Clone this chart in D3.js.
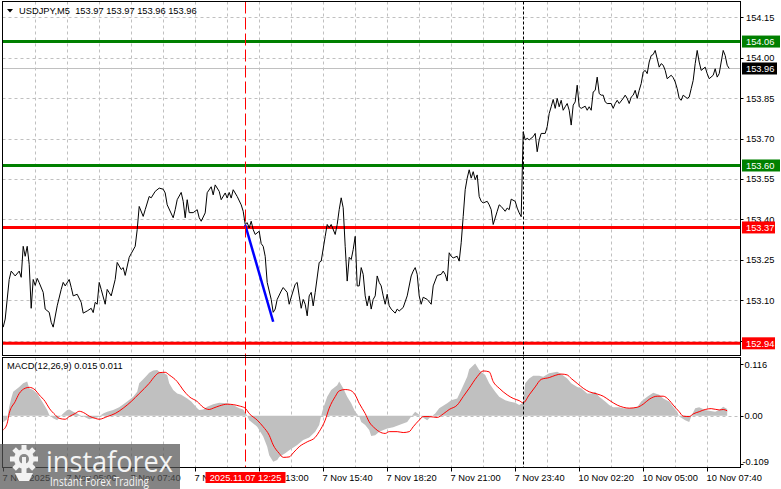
<!DOCTYPE html>
<html><head><meta charset="utf-8">
<script src="https://cdn.jsdelivr.net/npm/d3@7"></script>
<style>
html,body{margin:0;padding:0;background:#fff;}
svg{display:block;}
text{font-family:"Liberation Sans",Arial,sans-serif;}
</style>
</head><body>
<svg id="c" width="781" height="489"></svg>
<script>
// ---------------- DATA ----------------
const headerText = "USDJPY,M5  153.97 153.97 153.96 153.96";
const macdTitle = "MACD(12,26,9) 0.015 0.011";

// bar index (5-minute bars, bar 0 = 7 Nov 02:20) and close price
const priceBars = [0,1,3,4,6,8,9,10,11,12,13,14,15,16,17,18,20,21,23,24,25,27,29,30,31,33,34,35,37,39,40,42,44,45,46,47,48,49,51,52,53,54,56,57,59,60,61,63,64,66,67,68,70,71,73,74,76,78,80,81,82,85,86,87,89,90,91,92,93,95,97,98,99,101,102,104,105,106,108,109,111,112,113,114,115,117,119,120,121,122,123,124,125,126,128,129,130,131,132,134,135,136,137,139,140,142,143,144,146,147,148,149,150,151,152,153,154,155,156,158,159,161,162,163,164,166,167,168,169,170,171,172,173,174,175,176,177,178,179,180,181,182,183,184,185,186,187,188,189,190,191,192,193,194,196,197,198,200,202,204,205,206,207,208,209,210,212,214,215,217,219,220,221,222,223,224,225,227,228,229,230,231,232,233,234,235,236,237,238,239,240,242,243,244,245,247,248,249,251,252,253,254,256,257,258,259,260,261,262,263,265,266,267,268,269,271,272,273,274,275,276,277,278,279,280,281,282,283,284,285,286,287,288,289,291,292,293,294,295,296,297,298,299,300,301,302,304,305,306,307,308,310,311,312,313,314,315,316,317,318,319,320,321,322,323,324,325,326,328,329,330,331,332,334,335,336,337,338,339,340,342,343,344,345,346,347,348,349,351,352,353,355,356,357,358,359,360,361,362,363];
const priceClose = [153.000,153.030,153.177,153.208,153.190,153.208,153.185,153.300,153.263,153.300,153.233,153.070,153.177,153.155,153.181,153.165,153.129,153.067,153.055,153.018,153.000,153.079,153.140,153.166,153.153,153.177,153.148,153.116,153.122,153.092,153.052,153.060,153.070,153.054,153.092,153.085,153.166,153.140,153.085,153.140,153.128,153.116,153.177,153.240,153.214,153.221,153.192,153.259,153.273,153.300,153.362,153.448,153.411,153.436,153.485,153.480,153.504,153.516,153.512,153.498,153.454,153.406,153.436,153.473,153.500,153.467,153.406,153.473,153.425,153.425,153.436,153.406,153.393,153.424,153.499,153.521,153.491,153.528,153.504,153.473,153.498,153.479,153.500,153.479,153.510,153.485,153.454,153.430,153.381,153.388,153.368,153.393,153.362,153.344,153.356,153.310,153.300,153.263,153.166,153.103,153.055,153.067,153.103,153.134,153.147,153.129,153.085,153.111,153.159,153.166,153.116,153.070,153.103,153.085,153.042,153.116,153.129,153.079,153.129,153.240,153.245,153.337,153.381,153.369,153.381,153.344,153.381,153.436,153.480,153.443,153.300,153.171,153.259,153.251,153.288,153.337,153.153,153.153,153.221,153.196,153.116,153.079,153.116,153.067,153.103,153.116,153.190,153.166,153.153,153.116,153.085,153.122,153.079,153.067,153.052,153.067,153.060,153.073,153.116,153.190,153.208,153.221,153.196,153.116,153.085,153.111,153.103,153.085,153.153,153.192,153.196,153.208,153.196,153.171,153.276,153.263,153.257,153.263,153.245,153.313,153.411,153.510,153.553,153.584,153.553,153.577,153.547,153.565,153.485,153.467,153.461,153.467,153.454,153.436,153.381,153.430,153.454,153.448,153.430,153.442,153.436,153.475,153.467,153.442,153.424,153.410,153.725,153.695,153.701,153.695,153.707,153.719,153.651,153.695,153.719,153.719,153.744,153.793,153.818,153.845,153.812,153.849,153.818,153.842,153.805,153.818,153.830,153.805,153.750,153.824,153.836,153.898,153.818,153.812,153.820,153.805,153.818,153.805,153.873,153.879,153.928,153.867,153.861,153.861,153.836,153.830,153.830,153.812,153.830,153.842,153.830,153.849,153.861,153.849,153.830,153.854,153.861,153.879,153.849,153.879,153.904,153.947,153.953,153.941,153.984,154.008,154.012,154.027,153.965,153.978,153.972,153.953,153.922,153.935,153.926,153.910,153.885,153.849,153.842,153.861,153.849,153.854,153.885,153.916,153.978,154.027,153.984,153.953,153.965,153.941,153.922,153.935,153.959,153.928,153.941,153.984,154.027,154.008,153.972,153.960];

const priceTicks = [154.15,154.00,153.85,153.70,153.55,153.40,153.25,153.10,152.95];
const greenLevels = [154.06, 153.60];
const redLevels = [153.37, 152.94];
const currentPrice = 153.96;

const blueBars = [121, 135];
const bluePrices = [153.38, 153.02];

const timeLabelBars = [0,32,64,96,128,160,192,224,256,288,320,352];
const timeLabels = ["7 Nov 2025","7 Nov 05:00","7 Nov 07:40","7 Nov 10:20","7 Nov 13:00","7 Nov 15:40","7 Nov 18:20","7 Nov 21:00","7 Nov 23:40","10 Nov 02:20","10 Nov 05:00","10 Nov 07:40"];
const markerBar = 121;
const markerLabel = "2025.11.07 12:25";
const sessionBar = 260;

const macdBars = [0,2,3,4,5,8,10,12,13,15,17,18,20,22,23,25,27,28,30,32,33,35,37,38,40,42,43,45,47,48,50,52,55,58,62,65,67,68,70,72,73,75,77,78,80,82,83,85,87,89,92,94,97,98,100,102,105,108,112,115,118,120,122,123,127,130,132,133,135,137,138,141,143,147,150,153,156,158,159,160,162,164,167,168,170,172,174,176,178,179,181,183,184,186,188,192,195,198,202,204,206,208,209,212,213,216,218,222,224,227,229,232,233,236,238,241,243,246,248,251,253,256,258,260,261,263,265,268,270,273,277,279,282,284,287,289,292,294,296,298,301,303,305,308,310,313,317,319,322,325,328,330,333,335,337,338,341,343,344,346,348,351,353,356,358,360,362];
const macdValues = [-0.015,-0.008,0.020,0.039,0.054,0.065,0.073,0.077,0.062,0.058,0.050,0.043,0.028,0.013,0.002,-0.006,-0.010,-0.004,0.005,0.013,0.014,0.009,0.005,0.002,-0.001,-0.006,-0.008,-0.006,-0.004,-0.001,0.005,0.009,0.013,0.019,0.032,0.043,0.054,0.073,0.082,0.092,0.097,0.102,0.103,0.099,0.097,0.092,0.073,0.058,0.050,0.047,0.039,0.032,0.017,0.013,0.014,0.020,0.026,0.029,0.028,0.024,0.017,0.014,0.000,-0.010,-0.025,-0.047,-0.070,-0.089,-0.104,-0.100,-0.093,-0.085,-0.078,-0.066,-0.055,-0.049,-0.036,-0.021,0.000,0.017,0.043,0.058,0.069,0.077,0.062,0.043,0.028,0.009,-0.002,-0.014,-0.021,-0.032,-0.046,-0.044,-0.036,-0.029,-0.026,-0.021,-0.014,-0.002,0.009,0.002,-0.002,-0.010,-0.006,0.005,0.017,0.028,0.035,0.039,0.058,0.088,0.105,0.118,0.103,0.092,0.073,0.054,0.043,0.035,0.032,0.029,0.024,0.029,0.073,0.084,0.090,0.090,0.088,0.096,0.099,0.094,0.084,0.073,0.065,0.062,0.050,0.050,0.054,0.043,0.032,0.024,0.019,0.019,0.017,0.017,0.019,0.032,0.043,0.052,0.047,0.039,0.032,0.020,0.009,-0.002,-0.010,-0.014,-0.002,0.017,0.019,0.013,0.011,0.009,0.013,0.020,0.015];

const signalBars = [0,2,3,6,8,11,13,16,18,21,23,26,28,31,33,36,38,41,43,46,48,52,56,60,64,68,73,76,78,81,83,87,90,93,97,100,103,105,108,112,115,118,121,123,127,130,133,135,138,140,143,145,148,152,156,158,161,163,166,168,171,173,176,178,181,183,186,188,191,193,197,200,203,205,208,210,213,217,220,223,227,230,233,237,240,243,245,248,252,255,258,260,263,266,269,273,276,279,282,284,287,290,293,297,300,303,307,310,313,317,320,323,327,330,333,335,338,340,343,345,348,351,354,358,360,362];
const signalValues = [-0.032,-0.017,0.005,0.032,0.050,0.062,0.064,0.058,0.047,0.032,0.017,0.002,-0.006,-0.008,-0.002,0.005,0.010,0.005,-0.001,-0.006,-0.008,-0.002,0.005,0.017,0.032,0.050,0.073,0.090,0.097,0.098,0.092,0.077,0.058,0.043,0.032,0.019,0.014,0.017,0.022,0.026,0.025,0.022,0.017,0.005,-0.010,-0.025,-0.044,-0.066,-0.085,-0.094,-0.093,-0.084,-0.070,-0.059,-0.049,-0.036,-0.010,0.017,0.043,0.056,0.059,0.058,0.047,0.028,0.005,-0.014,-0.029,-0.036,-0.040,-0.036,-0.036,-0.038,-0.036,-0.025,-0.010,-0.002,-0.002,-0.004,0.004,0.014,0.024,0.043,0.062,0.088,0.101,0.099,0.077,0.062,0.047,0.039,0.034,0.029,0.047,0.065,0.082,0.086,0.091,0.094,0.092,0.084,0.073,0.062,0.054,0.049,0.044,0.035,0.024,0.019,0.017,0.019,0.026,0.037,0.044,0.044,0.035,0.024,0.009,-0.001,-0.002,0.004,0.009,0.014,0.016,0.013,0.014,0.011];

const macdTicks = [0.116, 0, -0.109];
const macdTickLabels = ["0.116", "0.00", "-0.109"];

// ---------------- LAYOUT ----------------
const svg = d3.select("#c");
const L = 2.5, R = 740.5;
const mainTop = 1.5, mainBot = 355.5, macdTop = 357.5, macdBot = 467.5;
const FS = 9.3;

const x = d3.scaleLinear().domain([0, 368]).range([3.2, 3.2 + 2 * 368]);
const yP = d3.scaleLinear().domain([153.10, 154.15]).range([300.2, 17.3]);
const yM = d3.scaleLinear().domain([0, 0.116]).range([415.7, 364.3]);
const px = v => Math.round(v) + 0.5;

const defs = svg.append("defs");
defs.append("clipPath").attr("id", "clipMain").append("rect")
  .attr("x", L).attr("y", mainTop).attr("width", R - L).attr("height", mainBot - mainTop);
defs.append("clipPath").attr("id", "clipMacd").append("rect")
  .attr("x", L).attr("y", macdTop).attr("width", R - L).attr("height", macdBot - macdTop);

// grid
const grid = svg.append("g").attr("stroke", "#c0c0c0").attr("stroke-dasharray", "3,3").attr("stroke-width", 1);
const vGrid = d3.range(16, 368, 16).filter(b => x(b) < R - 2);
vGrid.forEach(b => {
  grid.append("line").attr("x1", px(x(b))).attr("x2", px(x(b))).attr("y1", mainTop).attr("y2", mainBot);
  grid.append("line").attr("x1", px(x(b))).attr("x2", px(x(b))).attr("y1", macdTop).attr("y2", macdBot);
});
priceTicks.forEach(t => {
  grid.append("line").attr("x1", L).attr("x2", R).attr("y1", px(yP(t))).attr("y2", px(yP(t)));
});
grid.append("line").attr("x1", L).attr("x2", R).attr("y1", px(yM(0))).attr("y2", px(yM(0)));

// MACD histogram + signal
const gM = svg.append("g").attr("clip-path", "url(#clipMacd)");
const histData = macdBars.map((b, i) => [b, macdValues[i]]);
gM.append("path").datum(histData)
  .attr("d", d3.area().x(d => x(d[0])).y0(yM(0)).y1(d => yM(d[1])))
  .attr("fill", "#c0c0c0");
const sigData = signalBars.map((b, i) => [b, signalValues[i]]);
gM.append("path").datum(sigData)
  .attr("d", d3.line().x(d => x(d[0])).y(d => yM(d[1])).curve(d3.curveMonotoneX))
  .attr("fill", "none").attr("stroke", "#ff0000").attr("stroke-width", 1);

// main panel
const gP = svg.append("g").attr("clip-path", "url(#clipMain)");
gP.append("line").attr("x1", L).attr("x2", R).attr("y1", px(yP(currentPrice))).attr("y2", px(yP(currentPrice)))
  .attr("stroke", "#c0c0c0").attr("stroke-width", 1);
greenLevels.forEach(v => gP.append("line").attr("x1", L).attr("x2", R).attr("y1", yP(v)).attr("y2", yP(v))
  .attr("stroke", "#008000").attr("stroke-width", 3));
redLevels.forEach(v => gP.append("line").attr("x1", L).attr("x2", R).attr("y1", yP(v)).attr("y2", yP(v))
  .attr("stroke", "#ff0000").attr("stroke-width", 3));

const priceData = priceBars.map((b, i) => [b, priceClose[i]]);
gP.append("path").datum(priceData)
  .attr("d", d3.line().x(d => x(d[0])).y(d => yP(d[1])))
  .attr("fill", "none").attr("stroke", "#000").attr("stroke-width", 1);

const blueData = blueBars.map((b, i) => [b, bluePrices[i]]);
gP.append("path").datum(blueData)
  .attr("d", d3.line().x(d => x(d[0])).y(d => yP(d[1])))
  .attr("fill", "none").attr("stroke", "#0000ff").attr("stroke-width", 2.5);

// vertical markers
svg.append("line").attr("x1", px(x(markerBar))).attr("x2", px(x(markerBar))).attr("y1", mainTop).attr("y2", macdBot)
  .attr("stroke", "#ff0000").attr("stroke-width", 1).attr("stroke-dasharray", "12,4");
svg.append("line").attr("x1", px(x(sessionBar))).attr("x2", px(x(sessionBar))).attr("y1", mainTop).attr("y2", macdBot)
  .attr("stroke", "#000").attr("stroke-width", 1).attr("stroke-dasharray", "3,2");

// panel borders
svg.append("rect").attr("x", L).attr("y", mainTop).attr("width", R - L).attr("height", mainBot - mainTop)
  .attr("fill", "none").attr("stroke", "#000");
svg.append("rect").attr("x", L).attr("y", macdTop).attr("width", R - L).attr("height", macdBot - macdTop)
  .attr("fill", "none").attr("stroke", "#000");

// header
svg.append("path").attr("d", "M7,9 L13,9 L10,12.5 Z").attr("fill", "#000");
svg.append("text").attr("x", 19).attr("y", 14).attr("font-size", FS).attr("fill", "#000")
  .attr("xml:space", "preserve").style("white-space", "pre").text(headerText);
svg.append("text").attr("x", 7).attr("y", 369).attr("font-size", FS).attr("fill", "#000")
  .text(macdTitle);

// right price axis
const ax = svg.append("g");
priceTicks.forEach(t => {
  const yy = yP(t);
  ax.append("line").attr("x1", R).attr("x2", R + 3).attr("y1", px(yy)).attr("y2", px(yy)).attr("stroke", "#000");
  ax.append("text").attr("x", 746).attr("y", yy + 3.5).attr("font-size", FS).attr("fill", "#000").text(t.toFixed(2));
});
function levelBox(v, fill, w) {
  const yy = yP(v);
  ax.append("rect").attr("x", 742).attr("y", yy - 6).attr("width", w).attr("height", 12).attr("fill", fill);
  ax.append("text").attr("x", 746).attr("y", yy + 3.5).attr("font-size", FS).attr("fill", "#fff").text(v.toFixed(2));
}
greenLevels.forEach(v => levelBox(v, "#008000", 38));
levelBox(currentPrice, "#000", 35);
redLevels.forEach(v => levelBox(v, "#ff0000", 33));

// MACD axis
macdTicks.forEach((t, i) => {
  const yy = Math.min(yM(t), 461.7);
  ax.append("line").attr("x1", R).attr("x2", R + 3).attr("y1", px(yM(t) > 466 ? 466 : yM(t))).attr("y2", px(yM(t) > 466 ? 466 : yM(t))).attr("stroke", "#000");
  ax.append("text").attr("x", t < 0 ? 742.5 : 744.5).attr("y", yy + 3.5).attr("font-size", FS).attr("fill", "#000").text(macdTickLabels[i]);
});

// time axis
timeLabelBars.forEach((b, i) => {
  const xx = px(x(b));
  ax.append("line").attr("x1", xx).attr("x2", xx).attr("y1", macdBot).attr("y2", macdBot + 4).attr("stroke", "#000");
  ax.append("text").attr("x", xx - 1).attr("y", 481).attr("font-size", FS).attr("fill", "#000").text(timeLabels[i]);
});
const mx = px(x(markerBar));
ax.append("rect").attr("x", mx - 40).attr("y", 472).attr("width", 80).attr("height", 11).attr("fill", "#ff0000");
ax.append("text").attr("x", mx).attr("y", 481).attr("text-anchor", "middle").attr("font-size", FS).attr("fill", "#fff").text(markerLabel);

// watermark logo
const lg = svg.append("g");
lg.append("rect").attr("x", 0).attr("y", 444).attr("width", 180).attr("height", 45).attr("fill", "#555").attr("opacity", 0.72);
const gear = lg.append("g").attr("transform", "translate(24,459)").attr("fill", "#f2f2f2");
d3.range(8).forEach(k => {
  gear.append("rect").attr("x", -2.5).attr("y", -14).attr("width", 5).attr("height", 6)
    .attr("transform", `rotate(${k * 45})`);
});
gear.append("circle").attr("r", 10);
gear.append("circle").attr("r", 5).attr("fill", "#8a8a8a");
gear.append("rect").attr("x", -2).attr("y", -2).attr("width", 4).attr("height", 24);
gear.append("path").attr("d", "M-9,14 L9,14 L5,22 L-5,22 Z");
lg.append("text").attr("x", 46).attr("y", 472).attr("font-size", 30).attr("fill", "#f4f4f4")
  .style("font-family", "'Open Sans', Lato, sans-serif").attr("textLength", 127).attr("lengthAdjust", "spacingAndGlyphs")
  .text("instaforex");
lg.append("text").attr("x", 50).attr("y", 486).attr("font-size", 12).attr("fill", "#f4f4f4")
  .style("font-family", "'Open Sans', Lato, sans-serif").attr("textLength", 99).attr("lengthAdjust", "spacingAndGlyphs")
  .text("Instant Forex Trading");
</script>
</body></html>
